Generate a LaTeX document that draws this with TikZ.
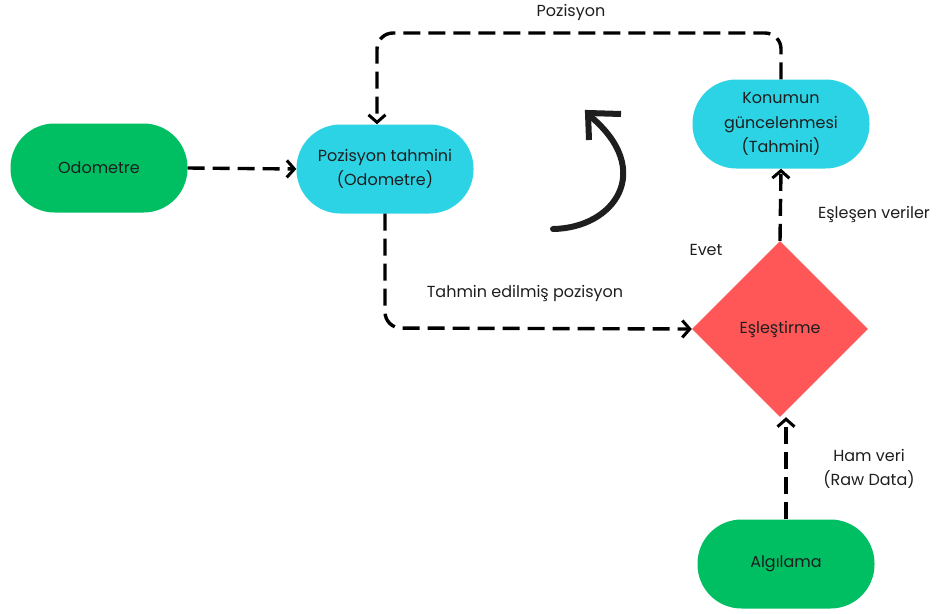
\documentclass[tikz,border=0pt]{standalone}
\usepackage{fontspec}
\setmainfont{Poppins}
\usetikzlibrary{arrows.meta,shapes.geometric}
\definecolor{termgreen}{HTML}{00BF63}
\definecolor{proccyan}{HTML}{2BD3E5}
\definecolor{decred}{HTML}{FF5757}
\definecolor{ink}{HTML}{1E1E1E}
\begin{document}
\begin{tikzpicture}[x=1pt,y=-1pt,
  font=\fontsize{16}{24.5}\selectfont, text=ink,
  stadium/.style={rectangle, rounded corners=44pt, minimum width=177pt,
    minimum height=89pt, inner sep=0pt, align=center},
  terminal/.style={stadium, fill=termgreen},
  process/.style={stadium, fill=proccyan},
  decision/.style={diamond, fill=decred, minimum width=176pt,
    minimum height=176pt, inner sep=0pt},
  flow/.style={line width=3.4pt, black, dash pattern=on 17pt off 8pt,
    -{Straight Barb[length=7.5pt,width=17pt,line width=3pt]}},
  lbl/.style={inner sep=0pt, align=center}]
\useasboundingbox (0,0) rectangle (942,613);

% nodes
\node[terminal] (odo) at (99,168) {Odometre};
\node[process] (pred) at (385,169) {Pozisyon tahmini\\(Odometre)};
\node[process] (upd) at (781,124) {Konumun\\güncelenmesi\\(Tahmini)};
\node[decision] (match) at (780,329) {Eşleştirme};
\node[terminal] (sense) at (786,564) {Algılama};

% helper points for the routed connectors
\coordinate (topL) at (377,33);
\coordinate (topR) at (781,33);
\coordinate (botL) at (385,328);

% connectors
\draw[flow] (odo.east) -- (pred.west);
\draw[flow, rounded corners=16pt] (upd.north) -- (topR) -- (topL) -- (pred.north -| topL);
\draw[flow, rounded corners=16pt] (pred.south) -- (botL) -- (match.west);
\draw[flow] (match.north) -- (upd.south);
\draw[flow] (sense.north) -- (sense.north |- match.south);

% cycle arrow
\draw[line width=6pt, ink, line cap=round, line join=round]
  (553,229) .. controls (615,228) and (655,170) .. (590,116);
\draw[line width=6pt, ink, line cap=butt, line join=miter]
  (589,140) -- (588,113) -- (621,114);

% labels
\node[lbl] (lpos) at (571,12) {Pozisyon};
\node[lbl] (lpred) at (525,293) {Tahmin edilmiş pozisyon};
\node[lbl] (lyes) at (706,250) {Evet};
\node[lbl] (lmatch) at (874,214) {Eşleşen veriler};
\node[lbl] (lraw) at (869,469) {Ham veri\\(Raw Data)};
\end{tikzpicture}
\end{document}
